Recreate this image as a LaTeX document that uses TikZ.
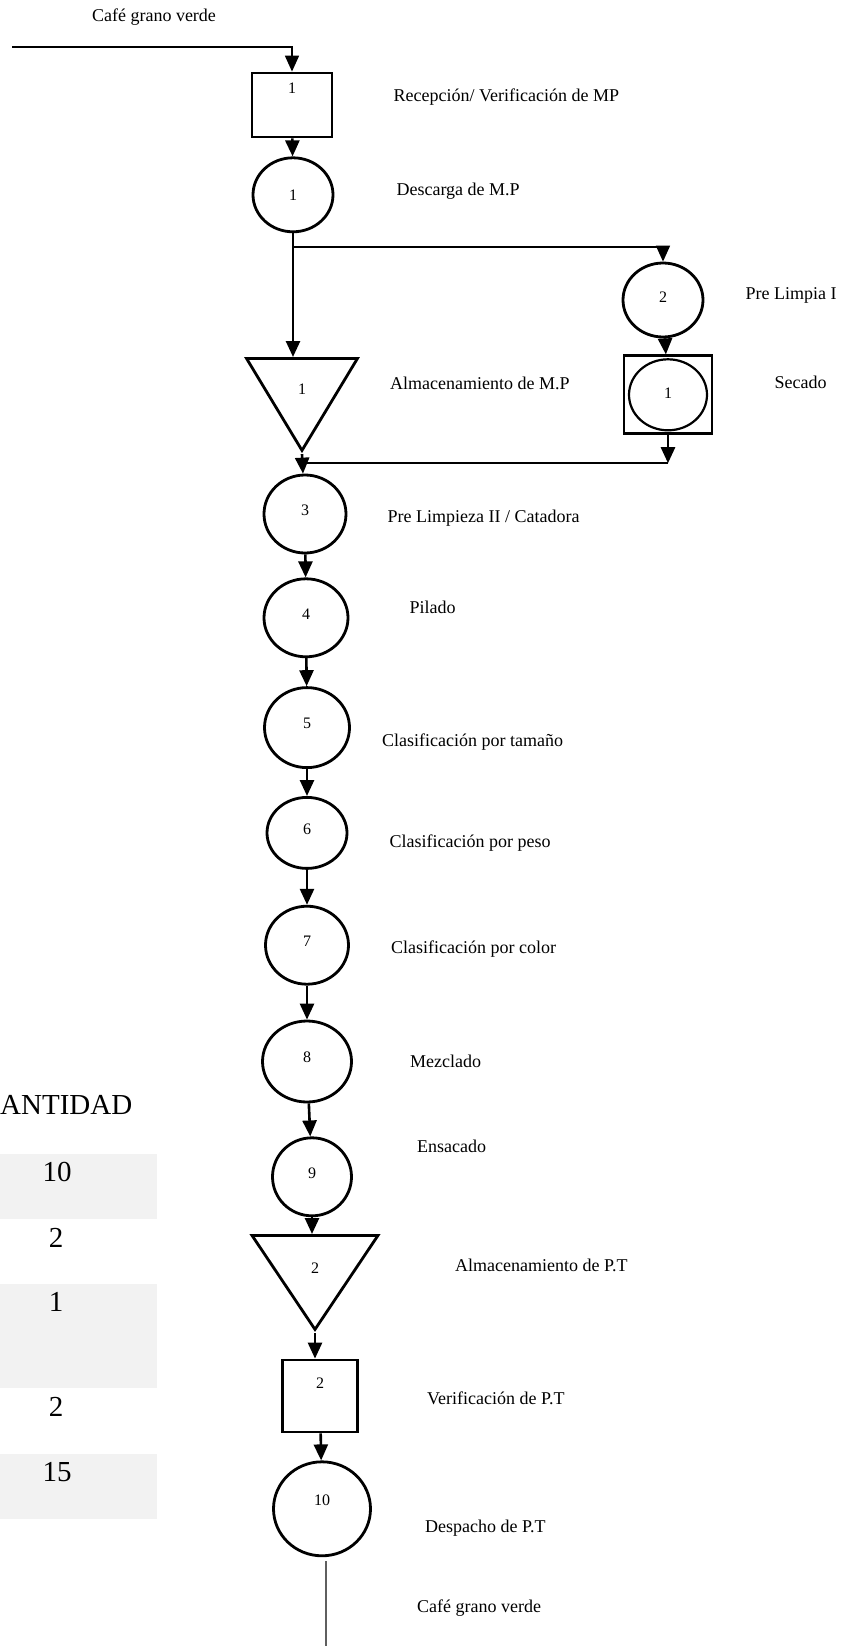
\documentclass[tikz,border=0pt]{standalone}
\usepackage{fontspec}
\setmainfont{Liberation Serif}
\usepackage{tikz}
\usetikzlibrary{arrows.meta}
\usetikzlibrary{positioning}
\usetikzlibrary{shapes.geometric}

\definecolor{CellGray}{RGB}{242,242,242}
\definecolor{LineGray}{RGB}{95,95,95}

\begin{document}
\begin{tikzpicture}
  [
    x = 1pt, y = -1pt,
    > = {Triangle[length=16pt, width=14pt]},
    part/.style = {draw, line width = 2.8pt, inner sep = 0pt,
                   font = \fontsize{16}{18}\selectfont},
    op/.style = {part, ellipse, minimum width = 82pt,
                 minimum height = 78pt, text depth = 8pt},
    insp/.style = {part, rectangle, minimum width = 80pt,
                   minimum height = 64pt},
    store/.style = {part, isosceles triangle, shape border rotate = 270,
                    isosceles triangle stretches},
    lbl/.style = {inner sep = 0pt, anchor = west,
                  font = \fontsize{18}{20}\selectfont},
    qty/.style = {inner sep = 0pt, font = \fontsize{29}{31}\selectfont},
    arrow/.style = {->, line width = 2.6pt},
    inflow/.style = {<-, line width = 2.6pt},
    link/.style = {line width = 1.7pt},
    endline/.style = {line width = 1.4pt, draw = LineGray},
  ]
  \useasboundingbox (0,0) rectangle (843,1646);

  \node[lbl, anchor = center] (src) at (154,17) {Café grano verde};
  \coordinate (in) at (12,47);

  \node[insp, text depth = 34pt] (r1) at (292,105) {1};
  \node[op, text depth = 0pt, minimum width = 80pt, minimum height = 74pt]
    [below = 18pt of r1, xshift = 1pt] (c1) {1}
    edge[inflow] (r1);
  \coordinate[below = 14pt of c1] (split);

  \node[store, minimum width = 111pt, minimum height = 92pt,
        anchor = lower side] (t1) at (302,357) {1};

  \node[op, text depth = 6pt, minimum width = 80pt, minimum height = 74pt]
    (c2) at (663,300) {2};
  \node[insp, minimum width = 88pt, minimum height = 78pt]
    [below = 16pt of c2, xshift = 5pt] (sq) {}
    edge[inflow] (c2);
  \node[op, text depth = 4pt, line width = 2.2pt, minimum width = 78pt,
        minimum height = 71pt] (sqc) at (sq) {1};
  \coordinate[below = 28pt of sq] (join);

  \node[op] (c3) at (305,514) {3};
  \node[op, minimum width = 84pt] [below = 23pt of c3, xshift = 1pt] (c4) {4}
    edge[inflow] (c3);
  \node[op, minimum width = 85pt, minimum height = 80pt]
    [below = 28pt of c4, xshift = 1pt] (c5) {5}
    edge[inflow] (c4);
  \node[op, minimum width = 80pt, minimum height = 71pt]
    [below = 27pt of c5] (c6) {6}
    edge[inflow] (c5);
  \node[op, minimum width = 83pt] [below = 35pt of c6] (c7) {7}
    edge[inflow] (c6);
  \node[op, minimum width = 89pt, minimum height = 81pt]
    [below = 34pt of c7] (c8) {8}
    edge[inflow] (c7);
  \node[op, minimum width = 79pt] [below = 33pt of c8, xshift = 5pt] (c9) {9}
    edge[inflow] (c8);

  \node[store, minimum width = 126pt, minimum height = 94pt,
        anchor = lower side] (t2) at (315,1234) {2};
  \node[insp, minimum width = 75pt, minimum height = 72pt, text depth = 26pt]
    (r2) at (320,1396) {2};
  \node[op, minimum width = 97pt, minimum height = 94pt, text depth = 18pt]
    [below = 27pt of r2, xshift = 2pt] (c10) {10}
    edge[inflow] (r2);
  \coordinate (out) at (326,1646);

  \node[lbl] [right = 60pt of r1, yshift = 8pt] (l_r1) {Recepción/ Verificación de MP};
  \node[lbl] [right = 62pt of c1, yshift = 4pt] (l_c1) {Descarga de M.P};
  \node[lbl] [right = 41pt of c2, yshift = 5pt] (l_c2) {Pre Limpia I};
  \node[lbl] (l_t1) at (390,383) {Almacenamiento de M.P};
  \node[lbl] [right = 61pt of sq, yshift = 12pt] (l_sq) {Secado};
  \node[lbl] [right = 40pt of c3, yshift = -4pt] (l_c3) {Pre Limpieza II / Catadora};
  \node[lbl] [right = 60pt of c4, yshift = 10pt] (l_c4) {Pilado};
  \node[lbl] [right = 31pt of c5, yshift = -14pt] (l_c5) {Clasificación por tamaño};
  \node[lbl] [right = 41pt of c6, yshift = -10pt] (l_c6) {Clasificación por peso};
  \node[lbl] [right = 41pt of c7, yshift = -4pt] (l_c7) {Clasificación por color};
  \node[lbl] [right = 57pt of c8] (l_c8) {Mezclado};
  \node[lbl] [right = 64pt of c9, yshift = 30pt] (l_c9) {Ensacado};
  \node[lbl] (l_t2) at (455,1265) {Almacenamiento de P.T};
  \node[lbl] [right = 68pt of r2, yshift = -2pt] (l_r2) {Verificación de P.T};
  \node[lbl] [right = 53pt of c10, yshift = -19pt] (l_c10) {Despacho de P.T};
  \node[lbl] (dst) at (417,1608) {Café grano verde};

  \draw[link, ->] (in) -| (r1);
  \draw[arrow] (c1) -- (c1 |- t1.lower side);
  \draw[link, ->] (split) -| (c2);
  \draw[arrow] (sq) -- (join);
  \draw[link] (join) -- (join -| t1.apex);
  \draw[arrow] (t1.apex) -- (c3);
  \draw[arrow] (c9) -- (c9 |- t2.lower side);
  \draw[arrow] (t2.apex) -- (t2.apex |- r2.north);
  \draw[endline, shorten <= 4pt] (out |- c10.south) -- (out);

  \fill[CellGray] (0,1154) rectangle (157,1219);
  \fill[CellGray] (0,1284) rectangle (157,1388);
  \fill[CellGray] (0,1454) rectangle (157,1519);
  \node[qty, anchor = west] (head) at (0,1105) {ANTIDAD};
  \node[qty] (q1) at (57,1172) {10};
  \node[qty] (q2) at (56,1238) {2};
  \node[qty] (q3) at (56,1302) {1};
  \node[qty] (q4) at (56,1407) {2};
  \node[qty] (q5) at (57,1472) {15};

\end{tikzpicture}
\end{document}
